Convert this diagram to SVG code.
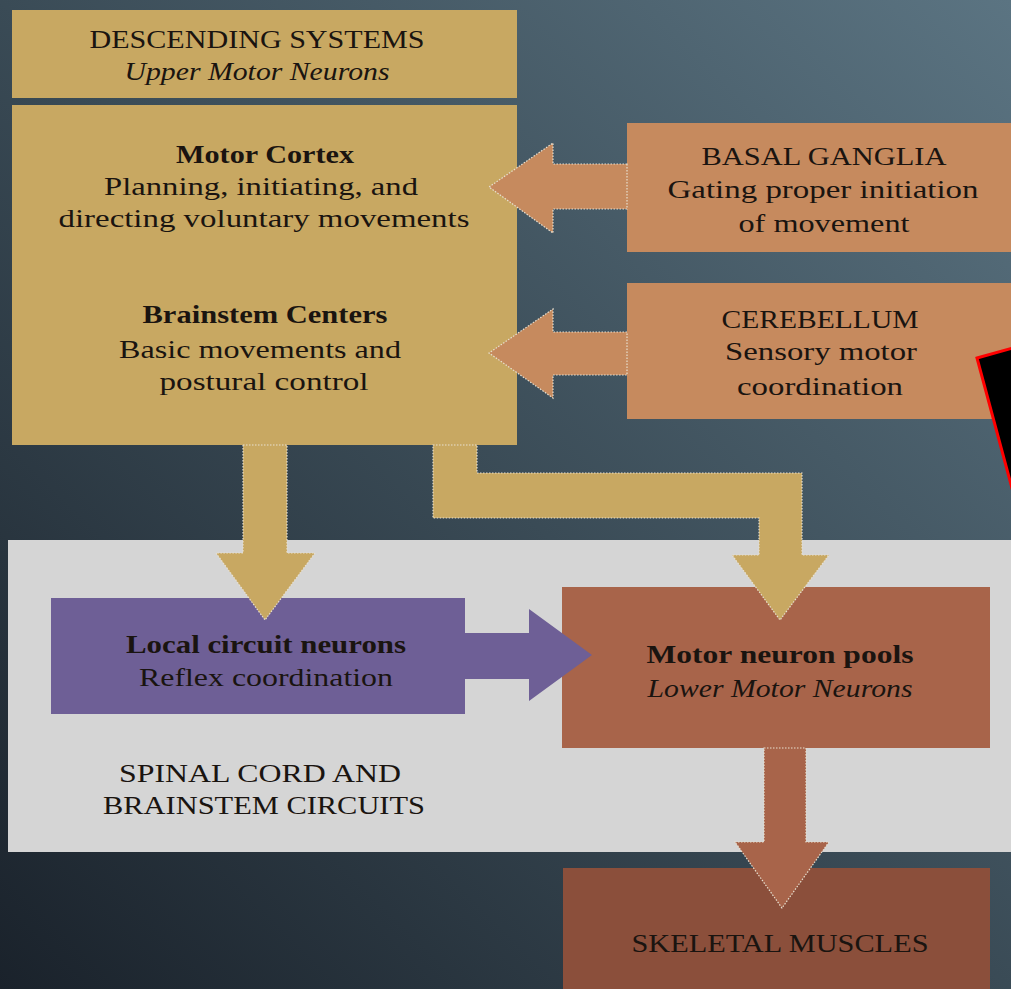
<svg xmlns="http://www.w3.org/2000/svg" width="1011" height="989" viewBox="0 0 1011 989">
<defs>
<linearGradient id="bg" x1="1" y1="0" x2="0" y2="1">
<stop offset="0" stop-color="#5b7482"/>
<stop offset="0.5" stop-color="#3a4b56"/>
<stop offset="1" stop-color="#1a222b"/>
</linearGradient>
<style>
text{font-family:"Liberation Serif","DejaVu Serif",serif;font-size:25px;fill:#1a1410;text-anchor:middle}
.b{font-weight:bold}
.i{font-style:italic}
.tan{fill:#c8a862}
.org{fill:#c68a5e}
.pur{fill:#6e5f96}
.mnp{fill:#a8644a}
.skm{fill:#8b4f3b}
.edge{stroke:#e8e0d0;stroke-width:1.2;stroke-dasharray:1.5 1.5}
</style>
</defs>
<rect width="1011" height="989" fill="url(#bg)"/>

<g id="spinal-panel">
<rect x="8" y="540" width="1003" height="312" fill="#d5d5d5"/>
<text x="260" y="782" textLength="282" lengthAdjust="spacingAndGlyphs">SPINAL CORD AND</text>
<text x="264" y="814" textLength="322" lengthAdjust="spacingAndGlyphs">BRAINSTEM CIRCUITS</text>
</g>

<g id="descending-systems">
<rect class="tan" x="12" y="10" width="505" height="88"/>
<text x="257" y="48" textLength="335" lengthAdjust="spacingAndGlyphs">DESCENDING SYSTEMS</text>
<text class="i" x="257" y="80" textLength="265" lengthAdjust="spacingAndGlyphs">Upper Motor Neurons</text>
</g>

<g id="upper-centers">
<rect class="tan" x="12" y="105" width="505" height="340"/>
<text class="b" x="265" y="163" textLength="178" lengthAdjust="spacingAndGlyphs">Motor Cortex</text>
<text x="261" y="195" textLength="314" lengthAdjust="spacingAndGlyphs">Planning, initiating, and</text>
<text x="264" y="227" textLength="411" lengthAdjust="spacingAndGlyphs">directing voluntary movements</text>
<text class="b" x="265" y="323" textLength="245" lengthAdjust="spacingAndGlyphs">Brainstem Centers</text>
<text x="260" y="358" textLength="282" lengthAdjust="spacingAndGlyphs">Basic movements and</text>
<text x="264" y="390" textLength="209" lengthAdjust="spacingAndGlyphs">postural control</text>
</g>

<g id="basal-ganglia">
<rect class="org" x="627" y="123" width="384" height="129"/>
<text x="824" y="165" textLength="245" lengthAdjust="spacingAndGlyphs">BASAL GANGLIA</text>
<text x="823" y="198" textLength="311" lengthAdjust="spacingAndGlyphs">Gating proper initiation</text>
<text x="824" y="232" textLength="171" lengthAdjust="spacingAndGlyphs">of movement</text>
</g>

<g id="cerebellum">
<rect class="org" x="627" y="283" width="384" height="136"/>
<text x="820" y="328" textLength="197" lengthAdjust="spacingAndGlyphs">CEREBELLUM</text>
<text x="821" y="360" textLength="192" lengthAdjust="spacingAndGlyphs">Sensory motor</text>
<text x="820" y="395" textLength="166" lengthAdjust="spacingAndGlyphs">coordination</text>
</g>

<g id="local-circuit-neurons">
<rect class="pur" x="51" y="598" width="414" height="116"/>
<text class="b" x="266" y="653" textLength="280" lengthAdjust="spacingAndGlyphs">Local circuit neurons</text>
<text x="266" y="686" textLength="254" lengthAdjust="spacingAndGlyphs">Reflex coordination</text>
</g>

<g id="motor-neuron-pools">
<rect class="mnp" x="562" y="587" width="428" height="161"/>
<text class="b" x="780" y="663" textLength="267" lengthAdjust="spacingAndGlyphs">Motor neuron pools</text>
<text class="i" x="780" y="697" textLength="265" lengthAdjust="spacingAndGlyphs">Lower Motor Neurons</text>
</g>

<g id="skeletal-muscles">
<rect class="skm" x="563" y="868" width="427" height="121"/>
<text x="780" y="952" textLength="297" lengthAdjust="spacingAndGlyphs">SKELETAL MUSCLES</text>
</g>

<g id="connectors">
<polygon class="org edge" points="627,164 553,164 553,143 489,187 553,233 553,209 627,209"/>
<polygon class="org edge" points="627,332 553,332 553,309 489,353 553,398 553,375 627,375"/>
<polygon class="tan edge" points="243,445 287,445 287,553 315,553 265,620 216,553 243,553"/>
<polygon class="tan edge" points="433,445 477,445 477,473 802,473 802,555 829,555 780,620 732,555 759,555 759,518 433,518"/>
<polygon class="pur" points="465,633 529,633 529,609 592,655 529,701 529,679 465,679"/>
<polygon class="mnp edge" points="764,748 806,748 806,842 829,842 782,908 735,842 764,842"/>
</g>

<polygon points="977,358 1013,348 1013,492" fill="#000" stroke="#ff0000" stroke-width="3"/>
</svg>
